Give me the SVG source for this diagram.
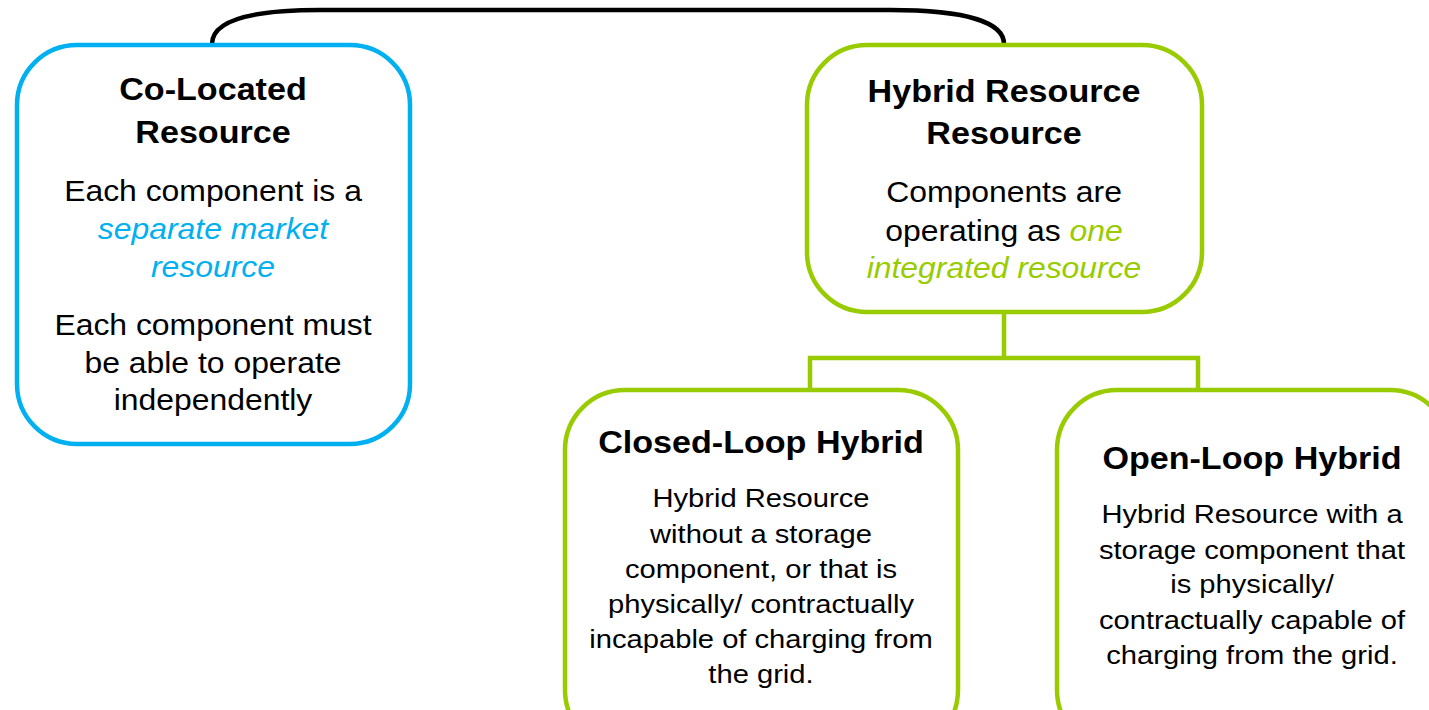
<svg xmlns="http://www.w3.org/2000/svg" width="1429" height="710" viewBox="0 0 1429 710">
<style>
.box{fill:#fff;stroke-width:4.5}
.blue{stroke:#00B0F0}
.green{stroke:#99CC00}
text{font-family:"Liberation Sans",Arial,sans-serif;text-anchor:middle;fill:#000}
.t{font-weight:bold;font-size:31px}
.b{font-size:29px}
.s{font-size:26.5px}
.ib{font-style:italic;fill:#00B0F0}
.ig{font-style:italic;fill:#99CC00}
.conn{fill:none;stroke-width:4.5}
</style>
<g id="connectors">
<path class="conn" stroke="#000" d="M212,44 C212,22 245,10 320,10 L890,10 C965,10 1004,22 1004,44"/>
<path class="conn green" stroke-linecap="square" d="M1004,313 V358 M810,358 H1198 M810,358 V390 M1198,358 V390"/>
</g>
<g id="co-located">
<rect class="box blue" x="17" y="45" width="393" height="399" rx="60"/>
<g transform="translate(213 0) scale(1.1 1)">
<text class="t" x="0" y="100">Co-Located</text>
<text class="t" x="0" y="143">Resource</text>
<text class="b" x="0" y="201">Each component is a</text>
<text class="b ib" x="0" y="239">separate market</text>
<text class="b ib" x="0" y="277">resource</text>
<text class="b" x="0" y="335">Each component must</text>
<text class="b" x="0" y="373">be able to operate</text>
<text class="b" x="0" y="410">independently</text>
</g>
</g>
<g id="hybrid">
<rect class="box green" x="807" y="45" width="395" height="267" rx="60"/>
<g transform="translate(1004 0) scale(1.1 1)">
<text class="t" x="0" y="102">Hybrid Resource</text>
<text class="t" x="0" y="144">Resource</text>
<text class="b" x="0" y="202">Components are</text>
<text class="b" x="0" y="241">operating as <tspan class="ig">one</tspan></text>
<text class="b ig" x="0" y="278">integrated resource</text>
</g>
</g>
<g id="closed-loop">
<rect class="box green" x="565" y="390" width="393" height="360" rx="60"/>
<g transform="translate(761 0) scale(1.1 1)">
<text class="t" x="0" y="453">Closed-Loop Hybrid</text>
<text class="s" x="0" y="507">Hybrid Resource</text>
<text class="s" x="0" y="543">without a storage</text>
<text class="s" x="0" y="578">component, or that is</text>
<text class="s" x="0" y="613">physically/ contractually</text>
<text class="s" x="0" y="648">incapable of charging from</text>
<text class="s" x="0" y="683">the grid.</text>
</g>
</g>
<g id="open-loop">
<rect class="box green" x="1057" y="390" width="393" height="360" rx="60"/>
<g transform="translate(1252 0) scale(1.1 1)">
<text class="t" x="0" y="469">Open-Loop Hybrid</text>
<text class="s" x="0" y="523">Hybrid Resource with a</text>
<text class="s" x="0" y="559">storage component that</text>
<text class="s" x="0" y="593">is physically/</text>
<text class="s" x="0" y="629">contractually capable of</text>
<text class="s" x="0" y="664">charging from the grid.</text>
</g>
</g>
</svg>
